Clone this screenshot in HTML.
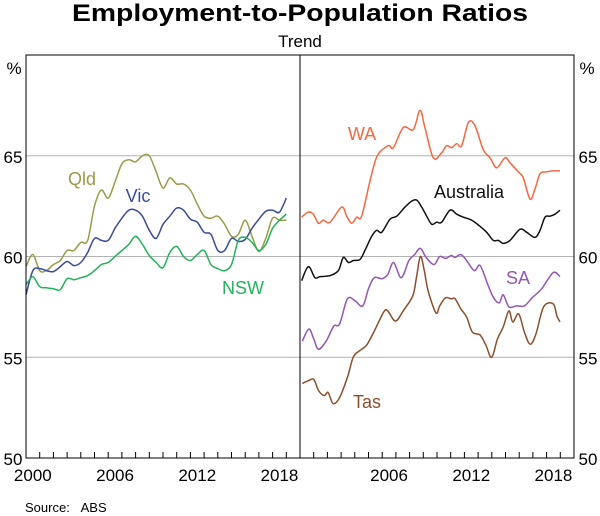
<!DOCTYPE html>
<html><head><meta charset="utf-8"><style>
html,body{margin:0;padding:0;background:#fff}
svg{display:block;font-family:"Liberation Sans",Arial,sans-serif}
</style></head><body>
<svg id="chart" width="600" height="516" viewBox="0 0 600 516">
<text x="300" y="21" text-anchor="middle" font-size="24" font-weight="bold" textLength="456" lengthAdjust="spacingAndGlyphs">Employment-to-Population Ratios</text>
<text x="300" y="47" text-anchor="middle" font-size="17">Trend</text>
<g id="grid"></g>
<g id="series"></g>
<g id="frame"></g>
<g id="labels"></g>
<text x="25" y="512" font-size="13">Source:&#160;&#160;&#160;ABS</text>
</svg>
<script>
const yTicks=[50,55,60,65];
const xTickLabels=[2000,2006,2012,2018];
const gridT=[0,0.5,1,1.5,2,2.5,3,3.5,4,4.5,5,5.5,6,6.5,7,7.5,8,8.5,9,9.5,10,10.5,11,11.5,12,12.5,13,13.5,14,14.5,15,15.5,16,16.5,17,17.5,18,18.5,19];
const qldVals=[59.5,60.1,59.3,59.3,59.6,59.8,60.3,60.3,60.7,60.8,62.5,63.3,62.9,63.7,64.6,64.8,64.7,65.0,65.0,64.2,63.4,63.9,63.6,63.6,63.3,62.6,62.0,61.9,62.0,61.6,61.0,61.1,61.8,61.0,60.25,60.9,61.9,61.8,61.8];
const vicVals=[58.1,59.3,59.4,59.3,59.25,59.5,59.75,59.55,59.7,60.2,60.9,60.8,60.8,61.4,61.9,62.3,62.3,62.0,61.3,60.9,61.6,62.0,62.4,62.3,61.85,61.7,61.2,61.1,60.3,60.3,60.9,60.75,60.85,61.4,61.85,62.25,62.3,62.2,62.9];
const nswVals=[58.6,59.0,58.5,58.45,58.4,58.35,58.9,58.85,58.95,59.05,59.3,59.6,59.7,60.0,60.3,60.6,61.0,60.6,60.05,59.7,59.45,60.2,60.5,60.0,59.8,60.1,60.3,59.6,59.4,59.3,59.6,60.8,60.95,60.7,60.3,60.6,61.4,61.8,62.1];
const waT=[0.12,0.6,0.97,1.34,1.7,2.19,3.04,3.41,3.77,4.14,4.5,5.11,5.64,6.45,6.81,7.54,8.27,8.76,9.12,9.73,10.34,10.7,11.07,11.44,11.8,12.29,12.77,13.38,13.87,14.36,14.96,15.33,15.94,16.3,16.79,17.15,17.52,18.0,18.49,18.98];
const waVals=[61.95,62.2,62.1,61.65,61.8,61.7,62.45,62.0,61.65,61.95,62.0,63.75,65.0,65.5,65.4,66.4,66.3,67.25,66.4,64.9,65.15,65.5,65.4,65.6,65.5,66.65,66.5,65.3,64.9,64.4,64.9,64.65,64.2,63.9,62.85,63.35,64.1,64.2,64.25,64.25];
const ausT=[0.12,0.61,1.09,1.46,2.19,2.8,3.16,3.53,3.89,4.38,4.74,5.23,5.6,5.96,6.57,7.06,7.66,8.15,8.52,8.88,9.25,9.61,9.98,10.34,10.95,11.44,11.92,12.53,13.14,13.63,14.11,14.48,14.84,15.33,16.06,16.55,17.15,17.52,17.88,18.25,18.61,18.98];
const ausVals=[58.8,59.5,58.95,59.0,59.05,59.3,59.95,59.7,59.8,59.85,60.3,61.0,61.3,61.2,61.85,62.0,62.45,62.75,62.8,62.45,62.0,61.6,61.7,61.7,62.3,62.1,61.95,61.8,61.5,61.2,60.8,60.8,60.65,60.8,61.35,61.2,60.95,61.3,61.95,62.0,62.1,62.3];
const saT=[0.17,0.65,1.01,1.35,1.91,2.47,2.89,3.46,4.02,4.58,5.0,5.42,5.98,6.4,6.83,7.39,7.95,8.37,8.79,9.21,9.78,10.2,10.62,11.04,11.32,11.74,12.16,12.72,13.15,13.71,14.13,14.55,14.83,15.25,15.81,16.38,16.94,17.64,18.48,18.98];
const saVals=[55.8,56.4,55.9,55.4,55.8,56.55,56.65,57.9,57.8,57.55,58.4,58.95,58.9,59.1,59.7,58.95,59.8,60.1,60.4,59.95,59.6,60.0,59.9,60.05,59.95,60.1,59.8,59.3,59.55,58.6,57.95,57.7,58.1,57.5,57.55,57.55,57.95,58.4,59.2,59.0];
const tasT=[0.17,0.65,1.01,1.35,1.77,2.05,2.42,2.89,3.46,3.88,4.3,4.86,5.42,6.12,6.4,6.97,7.53,8.23,8.51,8.79,9.07,9.35,9.92,10.2,10.62,11.04,11.32,11.74,12.16,12.58,13.15,13.57,13.99,14.41,14.83,15.25,15.53,15.96,16.38,16.8,17.22,17.78,18.48,18.75,18.98];
const tasVals=[53.7,53.85,53.9,53.35,53.1,53.25,52.7,53.0,54.0,55.0,55.3,55.6,56.3,57.25,57.3,56.8,57.3,58.05,59.0,60.0,59.3,58.3,57.2,57.55,57.95,57.9,57.9,57.4,57.0,56.25,56.1,55.6,55.0,55.9,56.5,57.3,56.75,57.15,56.25,55.65,56.15,57.5,57.65,57.05,56.75];

const NS='http://www.w3.org/2000/svg';
const TOP=55,BOT=458,LX=26,MX=300,RX=574,YEARW=(MX-LX)/20;
function yS(v){return BOT-(v-50)*(BOT-TOP)/20;}
function xL(t){return LX+t*YEARW;}
function xR(t){return MX+t*YEARW;}
function mk(tag,attrs,parent){const e=document.createElementNS(NS,tag);for(const k in attrs)e.setAttribute(k,attrs[k]);parent.appendChild(e);return e;}
const grid=document.getElementById('grid'),ser=document.getElementById('series'),frame=document.getElementById('frame'),lab=document.getElementById('labels');
yTicks.forEach(v=>{
  if(v>50){const g=mk('line',{x1:LX,x2:RX,y1:yS(v),y2:yS(v),stroke:'#b3b3b3','stroke-width':1},grid);
  
  }
  const a=mk('text',{x:13,y:yS(v)+7,'text-anchor':'middle','font-size':17},lab);a.textContent=v;
  
  
  const b=mk('text',{x:588,y:yS(v)+7,'text-anchor':'middle','font-size':17},lab);b.textContent=v;
  
  
});
[[14,'y-unit-left'],[587,'y-unit-right']].forEach(p=>{const t=mk('text',{x:p[0],y:74,'text-anchor':'middle','font-size':17},lab);t.textContent='%';
  
  });
function line(ts,vs,xf,color,name){
  const P=ts.map((t,i)=>[xf(t),yS(vs[i])]);
  let d='M'+P[0][0].toFixed(1)+','+P[0][1].toFixed(1);
  for(let i=0;i<P.length-1;i++){
    const p0=P[Math.max(0,i-1)],p1=P[i],p2=P[i+1],p3=P[Math.min(P.length-1,i+2)];
    const c1=[p1[0]+(p2[0]-p0[0])/6,p1[1]+(p2[1]-p0[1])/6],c2=[p2[0]-(p3[0]-p1[0])/6,p2[1]-(p3[1]-p1[1])/6];
    d+='C'+c1[0].toFixed(1)+','+c1[1].toFixed(1)+' '+c2[0].toFixed(1)+','+c2[1].toFixed(1)+' '+p2[0].toFixed(1)+','+p2[1].toFixed(1);
  }
  const p=mk('path',{d:d,fill:'none',stroke:color,'stroke-width':1.5,'stroke-linejoin':'round'},ser);
  
  
}
line(gridT,qldVals,xL,'#9b9b45','qld-line');
line(gridT,vicVals,xL,'#3a4b9d','vic-line');
line(gridT,nswVals,xL,'#22b35a','nsw-line');
line(waT,waVals,xR,'#f4673f','wa-line');
line(ausT,ausVals,xR,'#111111','australia-line');
line(saT,saVals,xR,'#9256b5','sa-line');
line(tasT,tasVals,xR,'#8d4e2c','tas-line');
const fr=mk('rect',{x:LX,y:TOP,width:RX-LX,height:BOT-TOP,fill:'none',stroke:'#000','stroke-width':1},frame);


const dv=mk('line',{x1:MX,x2:MX,y1:TOP,y2:BOT,stroke:'#000','stroke-width':1},frame);


for(let i=1;i<20;i++){[xL,xR].forEach(f=>{const tk=mk('line',{x1:f(i),x2:f(i),y1:BOT,y2:BOT-6,stroke:'#000','stroke-width':1},frame);
  
  });}
xTickLabels.forEach(yr=>{
  const t=mk('text',{x:xL(yr-2000+0.5),y:481,'text-anchor':'middle','font-size':17},lab);t.textContent=yr;
  
  
  if(yr>2000){const u=mk('text',{x:xR(yr-2000+0.5),y:481,'text-anchor':'middle','font-size':17},lab);u.textContent=yr;
  
  }
});
const serLabels=[['Qld',82,185,'#9b9b45'],['Vic',138,202,'#3a4b9d'],['NSW',243,294,'#22b35a'],['WA',362,140,'#f4673f'],['Australia',469,198,'#111111'],['SA',518,284,'#9256b5'],['Tas',367,408,'#8d4e2c']];
serLabels.forEach(s=>{const t=mk('text',{x:s[1],y:s[2],'text-anchor':'middle','font-size':18,fill:s[3]},lab);t.textContent=s[0];
  
  });
</script>
</body></html>
